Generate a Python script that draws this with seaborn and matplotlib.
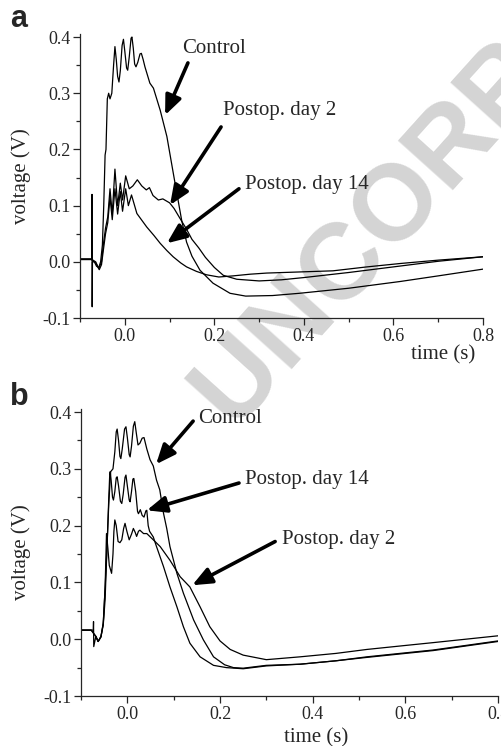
import matplotlib
matplotlib.use("Agg")
import matplotlib.pyplot as plt
from matplotlib.ticker import MultipleLocator, FormatStrFormatter
import seaborn as sns

# Panel a traces (time in s, voltage in V)
a_control_t = [-0.1, -0.08, -0.0735, -0.0732, -0.0728, -0.0722, -0.068, -0.063, -0.058, -0.054, -0.05,
               -0.047, -0.044, -0.042, -0.039, -0.036, -0.033, -0.029, -0.025, -0.022, -0.019, -0.016,
               -0.013, -0.01, -0.006, -0.003, 0.0, 0.004, 0.0065, 0.01, 0.014, 0.016, 0.019, 0.022,
               0.025, 0.029, 0.034, 0.037, 0.041, 0.045, 0.056, 0.064, 0.079, 0.094, 0.11, 0.127,
               0.138, 0.15, 0.168, 0.197, 0.235, 0.27, 0.33, 0.39, 0.5, 0.615, 0.7, 0.8]
a_control_v = [0.005, 0.005, 0.005, 0.12, -0.08, 0.0, 0.0, -0.008, -0.01, 0.0, 0.03,
               0.1, 0.19, 0.2, 0.29, 0.3, 0.29, 0.3, 0.35, 0.383, 0.36, 0.33,
               0.32, 0.34, 0.385, 0.396, 0.375, 0.345, 0.341, 0.365, 0.398, 0.4, 0.38, 0.352,
               0.347, 0.355, 0.37, 0.371, 0.36, 0.347, 0.318, 0.309, 0.27, 0.223, 0.15, 0.074,
               0.035, 0.01, -0.015, -0.038, -0.056, -0.061, -0.06, -0.056, -0.047, -0.035, -0.025, -0.013]

a_day2_t = [-0.1, -0.075, -0.065, -0.058, -0.052, -0.048, -0.043, -0.038, -0.033, -0.028, -0.022,
            -0.016, -0.01, -0.005, 0.002, 0.01, 0.018, 0.028, 0.038, 0.048, 0.055, 0.063, 0.075,
            0.085, 0.1, 0.11, 0.125, 0.138, 0.15, 0.165, 0.18, 0.2, 0.22, 0.25, 0.3, 0.35, 0.4,
            0.5, 0.6, 0.7, 0.8]
a_day2_v = [0.005, 0.005, 0.0, -0.012, 0.0, 0.03, 0.06, 0.08, 0.13, 0.085, 0.165,
            0.1, 0.14, 0.11, 0.153, 0.13, 0.135, 0.146, 0.135, 0.128, 0.132, 0.118, 0.11,
            0.112, 0.105, 0.095, 0.075, 0.058, 0.04, 0.025, 0.008, -0.01, -0.024, -0.031, -0.034, -0.032, -0.028,
            -0.019, -0.009, 0.001, 0.009]

a_day14_t = [-0.1, -0.075, -0.065, -0.057, -0.052, -0.048, -0.043, -0.038, -0.033, -0.028, -0.022,
             -0.016, -0.01, -0.005, 0.002, 0.008, 0.015, 0.027, 0.049, 0.065, 0.079, 0.094, 0.108,
             0.125, 0.138, 0.16, 0.182, 0.21, 0.242, 0.28, 0.317, 0.391, 0.465, 0.541, 0.615, 0.7, 0.8]
a_day14_v = [0.004, 0.004, -0.002, -0.014, -0.005, 0.02, 0.05, 0.07, 0.115, 0.075, 0.13,
             0.085, 0.125, 0.09, 0.13, 0.1, 0.119, 0.086, 0.062, 0.047, 0.033, 0.02, 0.009,
             -0.002, -0.009, -0.017, -0.023, -0.027, -0.025, -0.022, -0.02, -0.018, -0.016, -0.009, -0.003, 0.003, 0.009]

# Panel b traces
b_control_t = [-0.1, -0.078, -0.0735, -0.073, -0.0725, -0.068, -0.063, -0.057, -0.052, -0.048, -0.044,
               -0.04, -0.036, -0.031, -0.027, -0.024, -0.022, -0.019, -0.016, -0.014, -0.011, -0.006,
               -0.003, 0.0, 0.004, 0.006, 0.009, 0.013, 0.016, 0.019, 0.023, 0.027, 0.032, 0.036,
               0.042, 0.049, 0.056, 0.063, 0.07, 0.078, 0.085, 0.092, 0.107, 0.121, 0.143, 0.164,
               0.186, 0.21, 0.229, 0.25, 0.3, 0.373, 0.45, 0.517, 0.6, 0.66, 0.73, 0.8]
b_control_v = [0.016, 0.016, 0.016, 0.031, -0.013, 0.005, -0.004, 0.005, 0.028, 0.09, 0.16,
               0.24, 0.295, 0.3, 0.33, 0.365, 0.37, 0.35, 0.322, 0.318, 0.335, 0.37,
               0.374, 0.355, 0.325, 0.321, 0.34, 0.375, 0.383, 0.365, 0.342, 0.345, 0.354, 0.355,
               0.335, 0.316, 0.305, 0.28, 0.263, 0.222, 0.195, 0.163, 0.116, 0.081, 0.034, -0.001,
               -0.031, -0.045, -0.05, -0.051, -0.046, -0.044, -0.038, -0.031, -0.024, -0.019, -0.011, -0.003]

b_day14_t = [-0.1, -0.078, -0.068, -0.063, -0.057, -0.052, -0.048, -0.044, -0.04, -0.038, -0.037,
             -0.035, -0.032, -0.03, -0.027, -0.024, -0.022, -0.019, -0.015, -0.012, -0.009, -0.005,
             -0.003, 0.0, 0.004, 0.006, 0.009, 0.012, 0.014, 0.018, 0.022, 0.024, 0.028, 0.032,
             0.036, 0.04, 0.042, 0.045, 0.048, 0.056, 0.063, 0.078, 0.092, 0.107, 0.121, 0.135,
             0.157, 0.186, 0.214, 0.25, 0.3, 0.373, 0.45, 0.517, 0.6, 0.66, 0.73, 0.8]
b_day14_v = [0.016, 0.016, 0.005, -0.004, 0.004, 0.025, 0.07, 0.16, 0.25, 0.29, 0.295,
             0.28, 0.25, 0.245, 0.26, 0.284, 0.286, 0.27, 0.243, 0.239, 0.255, 0.285,
             0.289, 0.27, 0.245, 0.242, 0.26, 0.282, 0.283, 0.26, 0.225, 0.221, 0.228, 0.218,
             0.215, 0.226, 0.227, 0.2, 0.19, 0.18, 0.163, 0.128, 0.092, 0.057, 0.022, -0.007,
             -0.031, -0.046, -0.05, -0.052, -0.047, -0.044, -0.038, -0.032, -0.025, -0.02, -0.012, -0.004]

b_day2_t = [-0.1, -0.078, -0.068, -0.063, -0.057, -0.052, -0.048, -0.045, -0.042, -0.039, -0.034,
            -0.031, -0.029, -0.027, -0.024, -0.02, -0.016, -0.012, -0.008, -0.005, -0.001, 0.004,
            0.009, 0.013, 0.017, 0.02, 0.024, 0.027, 0.035, 0.042, 0.056, 0.071, 0.092, 0.114,
            0.135, 0.157, 0.178, 0.2, 0.222, 0.25, 0.3, 0.373, 0.45, 0.517, 0.6, 0.66, 0.73, 0.8]
b_day2_v = [0.016, 0.016, 0.005, -0.004, 0.004, 0.028, 0.09, 0.186, 0.16, 0.13, 0.116,
            0.15, 0.19, 0.21, 0.2, 0.172, 0.17, 0.175, 0.195, 0.204, 0.19, 0.175,
            0.185, 0.195, 0.188, 0.181, 0.19, 0.192, 0.186, 0.186, 0.175, 0.163, 0.139, 0.11,
            0.092, 0.057, 0.022, -0.003, -0.018, -0.028, -0.036, -0.031, -0.025, -0.018, -0.011, -0.006, 0.0, 0.006]

# Arrow labels: text, text anchor, arrow start, arrow tip (data coords)
a_notes = [
    ("Control", (0.128, 0.380), (0.141, 0.354), (0.090, 0.261)),
    ("Postop. day 2", (0.219, 0.270), (0.215, 0.240), (0.101, 0.101)),
    ("Postop. day 14", (0.268, 0.138), (0.255, 0.130), (0.094, 0.033)),
]
b_notes = [
    ("Control", (0.153, 0.389), (0.142, 0.384), (0.062, 0.308)),
    ("Postop. day 14", (0.254, 0.282), (0.241, 0.275), (0.042, 0.227)),
    ("Postop. day 2", (0.334, 0.176), (0.319, 0.172), (0.140, 0.095)),
]

sns.set_style("ticks")
plt.rcParams["font.family"] = ["Liberation Serif", "DejaVu Serif"]
plt.rcParams["axes.unicode_minus"] = False


def draw_panel(ax, traces, notes, xlabel_pos, ylabel_x):
    for t, v in traces:
        sns.lineplot(x=t, y=v, ax=ax, color="black", linewidth=0.9, sort=False, estimator=None)
    ax.set_facecolor("none")
    ax.set_xlim(-0.1, 0.8)
    ax.set_ylim(-0.1, 0.405)
    ax.xaxis.set_major_locator(MultipleLocator(0.2))
    ax.xaxis.set_minor_locator(MultipleLocator(0.1))
    ax.yaxis.set_major_locator(MultipleLocator(0.1))
    ax.yaxis.set_minor_locator(MultipleLocator(0.05))
    ax.xaxis.set_major_formatter(FormatStrFormatter("%.1f"))
    ax.yaxis.set_major_formatter(FormatStrFormatter("%.1f"))
    ax.tick_params(which="major", direction="out", length=5, width=0.9, labelsize=13, pad=2)
    ax.tick_params(which="minor", direction="out", length=3, width=0.9)
    sns.despine(ax=ax)
    for side in ["left", "bottom"]:
        ax.spines[side].set_linewidth(0.9)
    ax.set_xlabel("time (s)", fontsize=15)
    ax.xaxis.set_label_coords(*xlabel_pos)
    ax.set_ylabel("voltage (V)", fontsize=15)
    ax.yaxis.set_label_coords(ylabel_x, 0.5)
    for text, pos, start, tip in notes:
        ax.annotate("", xy=tip, xytext=start,
                    arrowprops=dict(arrowstyle="-|>,head_length=0.9,head_width=0.38",
                                    lw=2.6, color="black", shrinkA=0, shrinkB=0,
                                    mutation_scale=13))
        ax.text(pos[0], pos[1], text, fontsize=15, ha="left", va="center")


fig = plt.figure(figsize=(5.01, 7.46), dpi=100)
ax_a = fig.add_axes([0.1597, 0.5737, 0.8044, 0.3804])
ax_b = fig.add_axes([0.1617, 0.0670, 0.8323, 0.3845])

draw_panel(ax_a, [(a_control_t, a_control_v), (a_day2_t, a_day2_v), (a_day14_t, a_day14_v)],
           a_notes, (0.9007, -0.095), -0.122)
draw_panel(ax_b, [(b_control_t, b_control_v), (b_day2_t, b_day2_v), (b_day14_t, b_day14_v)],
           b_notes, (0.5635, -0.112), -0.120)

fig.text(10 / 501, 1 - 27 / 746, "a", fontsize=22, fontweight="bold", family="Liberation Sans", va="baseline")
fig.text(10 / 501, 1 - 405 / 746, "b", fontsize=22, fontweight="bold", family="Liberation Sans", va="baseline")

# watermark behind the plots
fig.text(0.469, 0.421, "UNCORRECTED PROOF", rotation=48, rotation_mode="anchor", ha="left", va="baseline",
         fontsize=78, fontweight="bold", family="Liberation Sans", color="#d4d4d4", zorder=-1)

fig.savefig("out.png", dpi=100)
